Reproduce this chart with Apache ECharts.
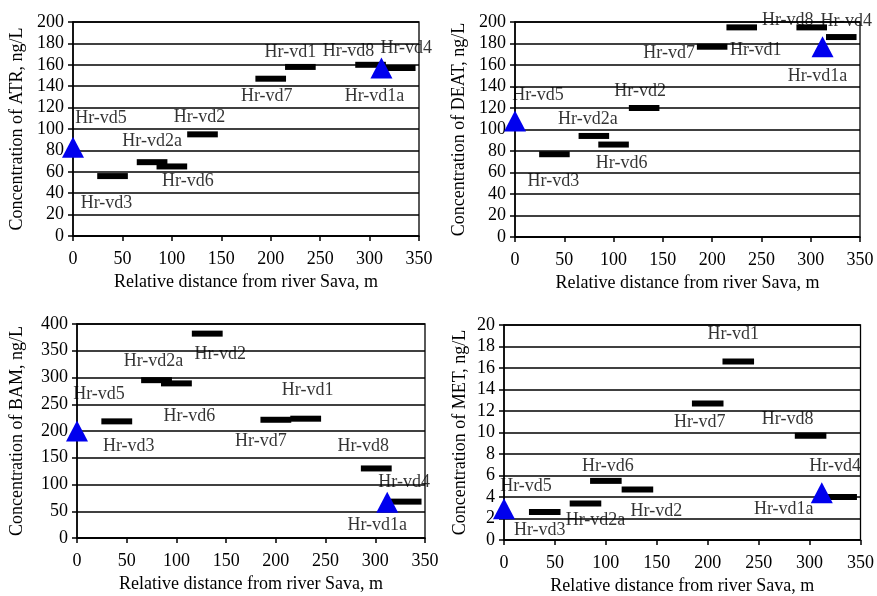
<!DOCTYPE html>
<html>
<head>
<meta charset="utf-8">
<script src="https://cdn.jsdelivr.net/npm/echarts@6/dist/echarts.min.js"></script>
<style>
html,body{margin:0;padding:0;background:#fff;}
#chart{width:877px;height:596px;}
</style>
</head>
<body>
<div id="chart"></div>
<script>
// ---- data ----
const wells = ['Hr-vd5', 'Hr-vd3', 'Hr-vd2a', 'Hr-vd6', 'Hr-vd2', 'Hr-vd7', 'Hr-vd1', 'Hr-vd8', 'Hr-vd4', 'Hr-vd1a'];
const distance = [0, 40, 80, 100, 131, 200, 230, 301, 331, 312];
const triangleWells = ['Hr-vd5', 'Hr-vd1a'];
const atr = [83, 56, 69, 65, 95, 147, 158, 160, 157, 157];
const deat = [108, 77, 94, 86, 120, 177, 195, 195, 186, 177];
const bam = [200, 218, 295, 289, 382, 221, 223, 130, 68, 67];
const met = [2.9, 2.6, 3.4, 5.5, 4.7, 12.7, 16.6, 9.7, 4.0, 4.4];
const xTicks = [0, 50, 100, 150, 200, 250, 300, 350];
const xTitle = 'Relative distance from river Sava, m';
const yTitles = ['Concentration of ATR, ng/L', 'Concentration of DEAT, ng/L', 'Concentration of BAM, ng/L', 'Concentration of MET, ng/L'];
const yMax = [200, 200, 400, 20];
const yStep = [20, 20, 50, 2];
const barHalfSpan = 15.5; // metres, half the sampling span drawn as a bar

// ---- layout (pixels) ----
const grids = [
  {left: 73, top: 22, width: 346, height: 214},
  {left: 515, top: 22, width: 345, height: 215},
  {left: 77, top: 324, width: 348, height: 214},
  {left: 504, top: 325, width: 357, height: 215}
];
const yNameGap = [47, 47, 51, 35];
const labelOffsets = [
  [[28,-29],[-6,27],[0,-21],[16,15],[-3,-17],[-4,18],[-10,-15],[-22,-14],[6,-20],[-7,28]],
  [[23,-26],[-1,27],[-6,-17],[8,19],[-4,-17],[-43,7],[14,23],[-24,-7],[5,-16],[-5,30]],
  [[22,-37],[12,25],[-3,-19],[13,33],[13,21],[-15,22],[2,-28],[-13,-22],[-2,-19],[-10,23]],
  [[22,-23],[-5,18],[10,17],[2,-15],[19,22],[-8,19],[-5,-27],[-23,-16],[-6,-31],[-38,17]]
];
const FONT = '"Liberation Serif", "Times New Roman", serif';
const INK = '#000';
const panels = [atr, deat, bam, met];

const option = {
  backgroundColor: '#fff',
  animation: false,
  textStyle: {fontFamily: FONT, color: INK},
  grid: grids.map(g => Object.assign({show: true, borderColor: INK, borderWidth: 1.3, backgroundColor: 'transparent', containLabel: false}, g)),
  xAxis: panels.map((p, i) => ({
    type: 'value', gridIndex: i, min: xTicks[0], max: xTicks[xTicks.length - 1], interval: xTicks[1] - xTicks[0],
    name: xTitle, nameLocation: 'middle', nameGap: 37,
    nameTextStyle: {fontFamily: FONT, fontSize: 18, color: INK},
    axisLine: {show: true, onZero: false, lineStyle: {color: INK, width: 1.5}},
    axisTick: {show: true, inside: false, length: 5, lineStyle: {color: INK, width: 1.5}},
    axisLabel: {fontFamily: FONT, fontSize: 18, color: INK, margin: 14},
    splitLine: {show: false}
  })),
  yAxis: panels.map((p, i) => ({
    type: 'value', gridIndex: i, min: 0, max: yMax[i], interval: yStep[i],
    name: yTitles[i], nameLocation: 'middle', nameGap: yNameGap[i], nameRotate: 90,
    nameTextStyle: {fontFamily: FONT, fontSize: 18, color: INK},
    axisLine: {show: true, onZero: false, lineStyle: {color: INK, width: 1.5}},
    axisTick: {show: true, inside: false, length: 5, lineStyle: {color: INK, width: 1.5}},
    axisLabel: {fontFamily: FONT, fontSize: 18, color: INK, margin: 9},
    splitLine: {show: true, lineStyle: {color: INK, width: 1.5}}
  })),
  series: []
};

panels.forEach((vals, pi) => {
  const barData = [], triData = [], labelData = [];
  wells.forEach((w, i) => {
    if (triangleWells.includes(w)) triData.push([distance[i], vals[i]]);
    else barData.push([distance[i], vals[i]]);
    labelData.push({name: w, value: [distance[i], vals[i]]});
  });
  option.series.push({
    type: 'custom', xAxisIndex: pi, yAxisIndex: pi, z: 3,
    data: barData,
    renderItem: function (params, api) {
      const x = api.value(0), y = api.value(1);
      const a = api.coord([x - barHalfSpan, y]);
      const b = api.coord([x + barHalfSpan, y]);
      return {type: 'rect', shape: {x: a[0], y: a[1] - 3, width: b[0] - a[0], height: 6}, style: {fill: '#000'}};
    }
  });
  option.series.push({
    type: 'scatter', xAxisIndex: pi, yAxisIndex: pi, z: 4,
    symbol: 'triangle', symbolSize: [22, 21],
    itemStyle: {color: '#0000ee', opacity: 1},
    data: triData
  });
  option.series.push({
    type: 'scatter', xAxisIndex: pi, yAxisIndex: pi, z: 5,
    symbol: 'circle', symbolSize: 1,
    itemStyle: {color: 'rgba(0,0,0,0)'},
    silent: true,
    label: {show: true, position: 'inside', formatter: '{b}', fontFamily: FONT, fontSize: 18, color: INK, align: 'center', verticalAlign: 'middle'},
    labelLayout: function (params) {
      const off = labelOffsets[pi][params.dataIndex];
      return {dx: off[0], dy: off[1], hideOverlap: false};
    },
    data: labelData
  });
});

const chart = echarts.init(document.getElementById('chart'), null, {renderer: 'canvas'});
chart.setOption(option);
</script>
</body>
</html>
